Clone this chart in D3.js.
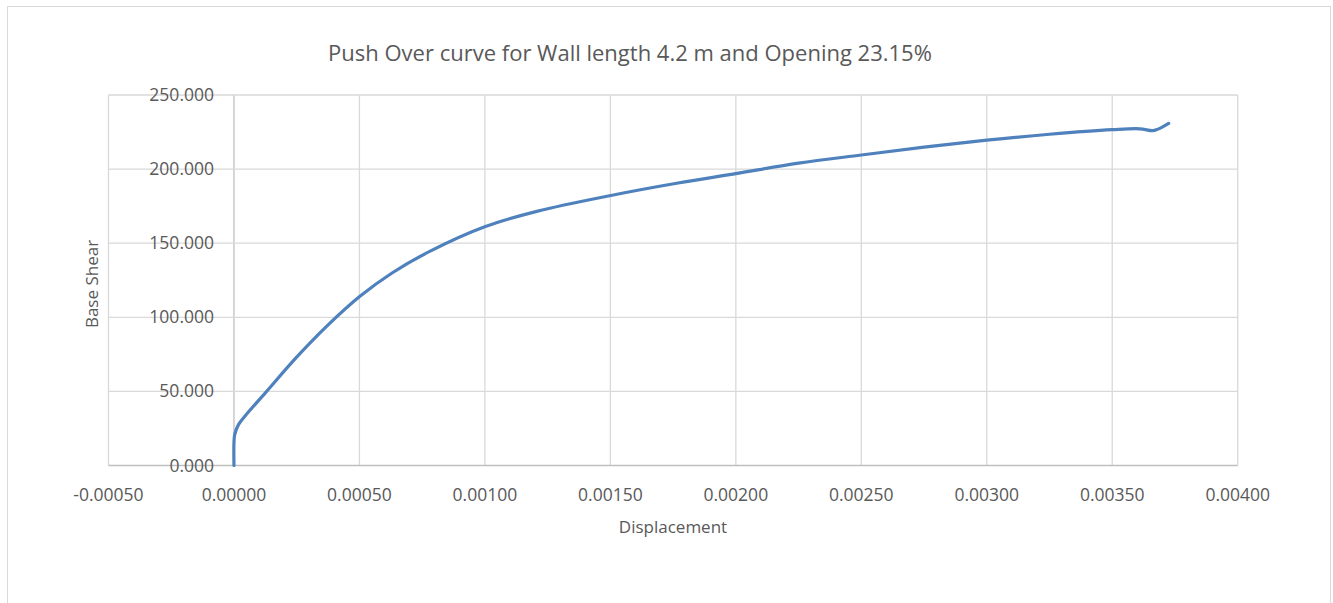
<!DOCTYPE html>
<html>
<head>
<meta charset="utf-8">
<script src="https://cdn.jsdelivr.net/npm/d3@7"></script>
<style>
    body { margin: 0; background: #ffffff; }
    .tick-label { fill: #595959; font-family: 'Open Sans', sans-serif; font-size: 17.5px; }
    .axis-title { fill: #595959; font-family: 'Open Sans', sans-serif; font-size: 17px; }
    .chart-title { fill: #595959; font-family: 'Open Sans', sans-serif; font-size: 22px; }
</style>
</head>
<body>
<svg id="vis" width="1333" height="603"></svg>
<script>
// displacement (x) and base shear (y)
const displacement = [0, 0, 0.000003, 0.000018, 0.000049, 0.000125, 0.000247, 0.000369, 0.000502,
    0.00063, 0.00078, 0.001002, 0.001207, 0.001502, 0.00177, 0.002, 0.00225, 0.0025, 0.00275,
    0.003, 0.00325, 0.0035, 0.00361, 0.00366, 0.00368, 0.003725];
const baseShear = [0, 15.3, 20.9, 27.6, 34.4, 49, 72.6, 93.9, 114.2,
    129.9, 144.5, 161.3, 171.5, 182.2, 190.6, 196.9, 204, 209.5, 214.8,
    219.5, 223.5, 226.6, 227.2, 225.9, 226.8, 230.9];

const xTicks = [-0.0005, 0, 0.0005, 0.001, 0.0015, 0.002, 0.0025, 0.003, 0.0035, 0.004];
const yTicks = [0, 50, 100, 150, 200, 250];

const titleText = 'Push Over curve for Wall length 4.2 m and Opening 23.15%';
const xAxisLabel = 'Displacement';
const yAxisLabel = 'Base Shear';

const svg = d3.select('#vis');

const x = d3.scaleLinear().domain([-0.0005, 0.004]).range([108.5, 1237.7]);
const y = d3.scaleLinear().domain([0, 250]).range([465.5, 95]);

// outer chart border
svg.append('rect')
    .attr('x', 7.5).attr('y', 6.5)
    .attr('width', 1323).attr('height', 620)
    .attr('fill', 'none')
    .attr('stroke', '#d9d9d9')
    .attr('stroke-width', 1);

svg.append('text')
    .attr('class', 'chart-title')
    .attr('x', 630).attr('y', 61)
    .attr('text-anchor', 'middle')
    .text(titleText);

// gridlines
svg.append('g').selectAll('line.vgrid')
    .data(xTicks)
    .join('line')
    .attr('x1', d => x(d)).attr('x2', d => x(d))
    .attr('y1', y(250)).attr('y2', y(0))
    .attr('stroke', d => d === 0 ? '#bfbfbf' : '#d9d9d9')
    .attr('stroke-width', 1.3);

svg.append('g').selectAll('line.hgrid')
    .data(yTicks)
    .join('line')
    .attr('x1', x(-0.0005)).attr('x2', x(0.004))
    .attr('y1', d => y(d)).attr('y2', d => y(d))
    .attr('stroke', d => d === 0 ? '#bfbfbf' : '#d9d9d9')
    .attr('stroke-width', 1.3);

// tick labels
svg.append('g').selectAll('text')
    .data(xTicks)
    .join('text')
    .attr('class', 'tick-label')
    .attr('x', d => x(d))
    .attr('y', 501)
    .attr('text-anchor', 'middle')
    .text(d => d3.format('.5f')(d).replace('−', '-'));

svg.append('g').selectAll('text')
    .data(yTicks)
    .join('text')
    .attr('class', 'tick-label')
    .attr('x', 214)
    .attr('y', d => y(d) + 6)
    .attr('text-anchor', 'end')
    .text(d => d3.format('.3f')(d));

svg.append('text')
    .attr('class', 'axis-title')
    .attr('x', 673).attr('y', 533)
    .attr('text-anchor', 'middle')
    .text(xAxisLabel);

svg.append('text')
    .attr('class', 'axis-title')
    .attr('text-anchor', 'middle')
    .attr('transform', 'translate(98,284) rotate(-90)')
    .text(yAxisLabel);

const pts = displacement.map((d, i) => [d, baseShear[i]]);
const line = d3.line()
    .x(d => x(d[0]))
    .y(d => y(d[1]))
    .curve(d3.curveCatmullRom.alpha(0.5));

svg.append('path')
    .attr('d', line(pts))
    .attr('fill', 'none')
    .attr('stroke', '#4f81bd')
    .attr('stroke-width', 3.2)
    .attr('stroke-linecap', 'round');
</script>
</body>
</html>
